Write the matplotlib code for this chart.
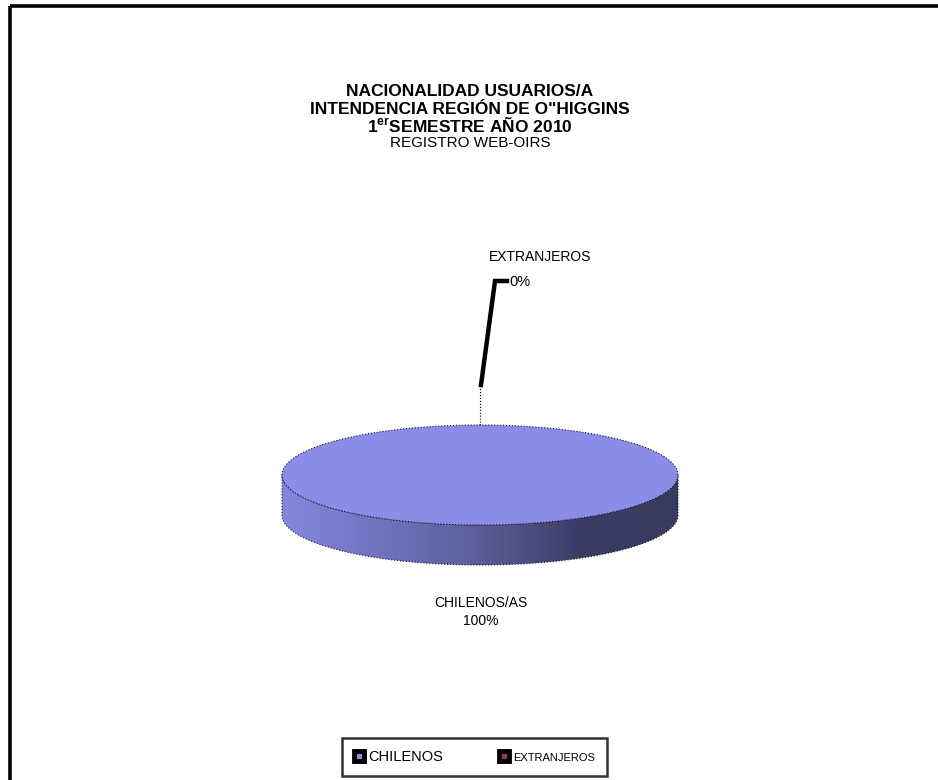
import numpy as np
import matplotlib.pyplot as plt
from matplotlib.patches import Rectangle, Polygon, Patch
from matplotlib.colors import LinearSegmentedColormap

plt.rcParams['font.family'] = ['Liberation Sans', 'DejaVu Sans']
plt.rcParams['mathtext.fontset'] = 'custom'
plt.rcParams['mathtext.bf'] = 'Liberation Sans:bold'
plt.rcParams['mathtext.rm'] = 'Liberation Sans'

W, H = 938, 780

categories = ['CHILENOS/AS', 'EXTRANJEROS']
legend_labels = ['CHILENOS', 'EXTRANJEROS']
values = [100, 0]
top_colors = ['#8a8ce8', '#993366']
title_lines = ['NACIONALIDAD USUARIOS/A',
               'INTENDENCIA REGIÓN DE O"HIGGINS',
               r'1$^{\mathbf{er}}$SEMESTRE AÑO 2010']
subtitle = 'REGISTRO WEB-OIRS'


def pct(v):
    return f'{round(100 * v / sum(values))}%'


fig = plt.figure(figsize=(W / 100, H / 100), dpi=100)

# overlay axes in pixel units for frame, titles, labels
ax = fig.add_axes([0, 0, 1, 1])
ax.set_xlim(0, W)
ax.set_ylim(H, 0)
ax.axis('off')

ax.add_patch(Rectangle((9.5, 5.5), W + 20, H + 20, fill=False,
                       edgecolor='black', linewidth=2.6))

for i, line in enumerate(title_lines):
    ax.text(470, 92 + i * 17, line, ha='center', va='center',
            fontsize=12.5, fontweight='bold')
ax.text(470, 143, subtitle, ha='center', va='center', fontsize=11)

# pie geometry: ellipse top face plus extruded side
cx0, cy0, rx, ry, depth = 480, 475, 198, 50, 40
ax_pie = fig.add_axes([(cx0 - rx) / W, 1 - (cy0 + ry + depth) / H,
                       2 * rx / W, (2 * ry + depth) / H])
ax_pie.axis('off')

# side wall with horizontal shading
t = np.linspace(np.pi, 2 * np.pi, 200)
d = depth / ry
side = np.concatenate([np.c_[np.cos(t), np.sin(t)],
                       np.c_[np.cos(t[::-1]), np.sin(t[::-1]) - d]])
side_poly = Polygon(side, closed=True, facecolor='none',
                    edgecolor='#111122', linewidth=0.8, linestyle=':',
                    zorder=1, clip_on=False)
ax_pie.add_patch(side_poly)
grad = np.linspace(0, 1, 256)[None, :]
side_cmap = LinearSegmentedColormap.from_list(
    'side', ['#8587de', '#7072bf', '#5c5d98', '#3c3d66', '#383a5e'])
im = ax_pie.imshow(grad, cmap=side_cmap, extent=(-1, 1, -1 - d, 0),
                   zorder=0.5)
im.set_clip_path(side_poly)

wedges, _ = ax_pie.pie(values, colors=top_colors, startangle=90,
                       counterclock=False, radius=1,
                       wedgeprops=dict(edgecolor='none', linewidth=0))
for w in wedges:
    w.set_zorder(2)
ring = np.linspace(0, 2 * np.pi, 300)
ax_pie.add_patch(Polygon(np.c_[np.cos(ring), np.sin(ring)], closed=True,
                         fill=False, edgecolor='#111122', linewidth=0.8,
                         linestyle=':', zorder=3, clip_on=False))
ax_pie.set_aspect('auto')
ax_pie.set_xlim(-1, 1)
ax_pie.set_ylim(-1 - d, 1)

# leader for the zero slice, anchored at its mid angle on the rim
total = sum(values)
theta = np.deg2rad(90 - 360 * (values[0] + values[1] / 2) / total)
ax_px = ax.transData.inverted()
x0, y0 = ax_px.transform(ax_pie.transData.transform((np.cos(theta), np.sin(theta))))
ax.plot([x0, x0], [y0, y0 + 12], color='#6d6fb8', lw=1.2, zorder=5)
ax.plot([x0, x0], [y0, y0 - 40], color='black', lw=0.8, ls=':', zorder=5)
ax.plot([x0 + 1, x0 + 15, x0 + 27], [y0 - 40, y0 - 144, y0 - 144],
        color='black', lw=3.2, solid_joinstyle='miter', zorder=5)
ax.text(x0 + 60, y0 - 168, categories[1], ha='center', va='center',
        fontsize=10)
ax.text(x0 + 29, y0 - 143, pct(values[1]), ha='left', va='center',
        fontsize=10.5)

ax.text(cx0 + 1, 603, categories[0], ha='center', va='center', fontsize=10)
ax.text(cx0 + 1, 621, pct(values[0]), ha='center', va='center', fontsize=10)

# legend box
handles = [Patch(facecolor=c, edgecolor='black', linewidth=3.5)
           for c in top_colors]
leg = fig.legend(handles, legend_labels, ncol=2, loc='center',
                 bbox_to_anchor=(474.5 / W, 1 - 757 / H), frameon=True,
                 fancybox=False, edgecolor='black', fontsize=10.5,
                 handlelength=0.7, handleheight=0.7, handletextpad=0.3,
                 columnspacing=3.8, borderpad=0.8, borderaxespad=0)
leg.get_frame().set_linewidth(1.8)
leg.get_texts()[1].set_fontsize(8)

fig.savefig('out.png', dpi=100, facecolor='white')
